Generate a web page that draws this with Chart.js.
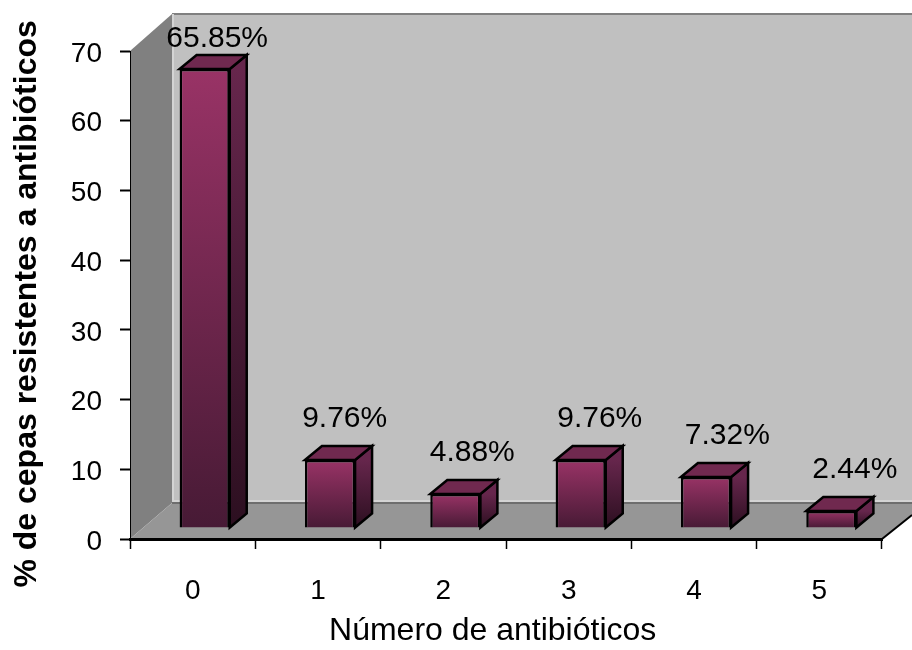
<!DOCTYPE html>
<html>
<head>
<meta charset="utf-8">
<title>Cepas resistentes</title>
<script src="https://cdn.jsdelivr.net/npm/chart.js@4/dist/chart.umd.min.js"></script>
<style>
    html, body { margin: 0; padding: 0; background: #fff; }
    canvas { display: block; }
</style>
</head>
<body>
<canvas id="grafico" width="912" height="650"></canvas>
<script>
// Datos
const categorias = ['0', '1', '2', '3', '4', '5'];
const porcentajes = [65.85, 9.76, 4.88, 9.76, 7.32, 2.44];
const tituloX = 'Número de antibióticos';
const tituloY = '% de cepas resistentes a antibióticos';

// Desplazamientos del falso 3D de Excel
const FONDO_DX = 42, FONDO_DY = 36;   // pared del fondo respecto a los ejes
const BARRA_DX = 12, BARRA_DY = 11;   // la barra se apoya sobre el suelo
const CARA_DX = 17, CARA_DY = 14;     // profundidad de cada barra

function poligono(ctx, puntos, relleno, linea, grosor) {
    ctx.beginPath();
    puntos.forEach((p, i) => i ? ctx.lineTo(p[0], p[1]) : ctx.moveTo(p[0], p[1]));
    ctx.closePath();
    ctx.fillStyle = relleno;
    ctx.fill();
    if (linea) {
        ctx.strokeStyle = linea;
        ctx.lineWidth = grosor;
        ctx.stroke();
    }
}

// Paredes y suelo, por detras de los ejes
const paredes = {
    id: 'paredes',
    beforeDraw(chart) {
        const { ctx, chartArea: a, width } = chart;
        const fx = a.left + FONDO_DX;
        const arriba = a.top - FONDO_DY - 1;
        const suelo = a.bottom - FONDO_DY;
        ctx.save();
        // pared del fondo
        poligono(ctx, [[fx, arriba], [width, arriba], [width, suelo], [fx, suelo]], '#c0c0c0');
        ctx.fillStyle = '#808080';
        ctx.fillRect(fx, arriba - 1, width - fx, 2);
        ctx.fillStyle = '#d4d4d4';
        ctx.fillRect(fx, arriba, 2, suelo - arriba);
        ctx.fillRect(fx, suelo - 3, width - fx, 3);
        // pared izquierda
        poligono(ctx, [[a.left, a.top], [fx, arriba], [fx, suelo], [a.left, a.bottom]], '#808080');
        // suelo
        poligono(ctx, [[a.left, a.bottom], [fx, suelo], [width, suelo], [width, a.bottom - 24], [a.right, a.bottom]], '#969696');
        ctx.strokeStyle = '#6e6e6e';
        ctx.lineWidth = 2;
        ctx.beginPath();
        ctx.moveTo(fx, suelo);
        ctx.lineTo(width, suelo);
        ctx.stroke();
        // canto derecho del suelo
        ctx.strokeStyle = '#000';
        ctx.lineWidth = 2;
        ctx.beginPath();
        ctx.moveTo(a.right, a.bottom);
        ctx.lineTo(width, a.bottom - 24);
        ctx.stroke();
        ctx.restore();
    }
};

// Caras superior y lateral de cada barra, y etiquetas
const barras3d = {
    id: 'barras3d',
    beforeDatasetDraw(chart) {
        chart.ctx.save();
        chart.ctx.translate(BARRA_DX, -BARRA_DY);
    },
    afterDatasetDraw(chart, args) {
        const ctx = chart.ctx;
        args.meta.data.forEach(barra => {
            const izq = barra.x - barra.width / 2;
            const der = barra.x + barra.width / 2;
            const lateral = ctx.createLinearGradient(0, barra.y, 0, barra.base);
            lateral.addColorStop(0, '#66264c');
            lateral.addColorStop(1, '#2c0f20');
            poligono(ctx, [[der, barra.y], [der + CARA_DX, barra.y - CARA_DY], [der + CARA_DX, barra.base - CARA_DY], [der, barra.base]], lateral, '#000', 2.5);
            poligono(ctx, [[izq, barra.y], [izq + CARA_DX, barra.y - CARA_DY], [der + CARA_DX, barra.y - CARA_DY], [der, barra.y]], '#70294f', '#000', 2.5);
        });
        ctx.restore();
    },
    afterDatasetsDraw(chart) {
        const ctx = chart.ctx;
        ctx.save();
        ctx.font = '30px "Liberation Sans", Arial, sans-serif';
        ctx.fillStyle = '#000';
        ctx.textAlign = 'center';
        ctx.textBaseline = 'middle';
        chart.getDatasetMeta(0).data.forEach((barra, i) => {
            const x = barra.x + BARRA_DX + 12.5 + i * 2.2;
            const y = Math.max(39, barra.y - BARRA_DY - 41);
            ctx.fillText(porcentajes[i].toFixed(2) + '%', x, y);
        });
        ctx.restore();
    }
};

const ctx = document.getElementById('grafico').getContext('2d');
new Chart(ctx, {
    type: 'bar',
    data: {
        labels: categorias,
        datasets: [{
            data: porcentajes,
            barPercentage: 0.4,
            categoryPercentage: 1,
            borderWidth: 2.5,
            borderColor: '#000',
            backgroundColor(c) {
                const y = c.chart.scales.y;
                const arriba = y ? y.getPixelForValue(porcentajes[c.dataIndex]) : NaN;
                const abajo = y ? y.getPixelForValue(0) : NaN;
                if (!Number.isFinite(arriba) || !Number.isFinite(abajo)) return '#993366';
                const g = c.chart.ctx.createLinearGradient(0, arriba, 0, abajo);
                g.addColorStop(0, '#993366');
                g.addColorStop(1, '#471a35');
                return g;
            }
        }]
    },
    options: {
        responsive: false,
        animation: false,
        layout: { padding: { top: 51, right: 30, left: 0, bottom: 0 } },
        plugins: { legend: { display: false }, tooltip: { enabled: false } },
        scales: {
            x: {
                afterFit(s) { s.height = 111; },
                grid: { drawOnChartArea: false, tickLength: 10, tickColor: '#000', tickWidth: 1.5, offset: true },
                border: { color: '#000', width: 3 },
                ticks: { color: '#000', padding: 25, maxRotation: 0, font: { family: '"Liberation Sans", Arial, sans-serif', size: 28 } },
                // los espacios finales corren el titulo hacia la izquierda, como en el original
                title: { display: true, text: tituloX + '   ', color: '#000', padding: { top: 22, bottom: 0 }, font: { family: '"Liberation Sans", Arial, sans-serif', size: 32 } }
            },
            y: {
                min: 0,
                max: 70,
                afterFit(s) { s.width = 130; },
                grid: { drawOnChartArea: false, tickLength: 10, tickColor: '#000', tickWidth: 2 },
                border: { color: '#000', width: 1 },
                ticks: { color: '#000', stepSize: 10, padding: 18, labelOffset: 3, font: { family: '"Liberation Sans", Arial, sans-serif', size: 28 } },
                title: { display: true, text: tituloY + '  ', color: '#000', padding: { top: 8, bottom: 0 }, font: { family: '"Liberation Sans", Arial, sans-serif', size: 32, weight: 'bold' } }
            }
        }
    },
    plugins: [paredes, barras3d]
});
</script>
</body>
</html>
